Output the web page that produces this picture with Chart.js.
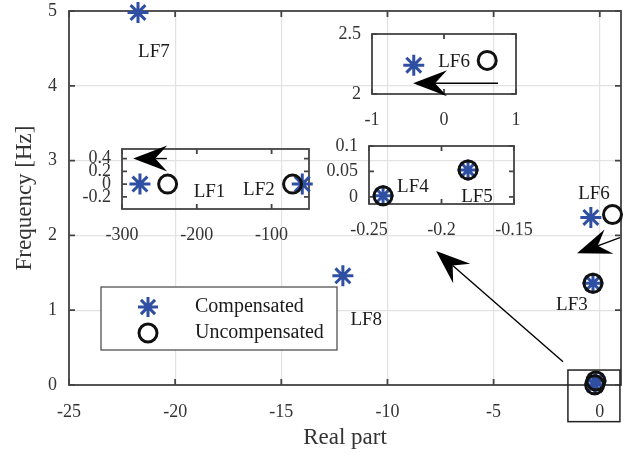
<!DOCTYPE html>
<html>
<head>
<meta charset="utf-8">
<script src="https://cdn.jsdelivr.net/npm/chart.js@4.4.1/dist/chart.umd.min.js"></script>
<style>
  html, body { margin: 0; padding: 0; background: #fff; }
  #wrap { position: relative; width: 627px; height: 454px; overflow: hidden; }
  #wrap canvas { position: absolute; }
</style>
</head>
<body>
<div id="wrap">
  <canvas id="main"></canvas>
  <canvas id="inset1"></canvas>
  <canvas id="inset2"></canvas>
  <canvas id="inset3"></canvas>
</div>
<script>
// modes and their eigenvalues (real part, frequency in Hz)
const modes      = ['LF1', 'LF2', 'LF3', 'LF4', 'LF5', 'LF6', 'LF7', 'LF8'];
const compReal   = [-276, -59, -0.32, -0.2403, -0.1817, -0.42, -21.75, -12.1];
const compFreq   = [0, 0, 1.36, 0.002, 0.053, 2.24, 4.98, 1.46];
const uncompReal = [-239, -72, -0.32, -0.2403, -0.1817, 0.6, null, null];
const uncompFreq = [0, 0, 1.36, 0.002, 0.053, 2.28, null, null];

// axis ranges and ticks
const mainX = [-25, 1],      mainXTicks = [-25, -20, -15, -10, -5, 0];
const mainY = [0, 5],        mainYTicks = [0, 1, 2, 3, 4, 5];
const in1X = [-300, -50],    in1XTicks = [-300, -200, -100];
const in1Y = [-0.39, 0.55],  in1YTicks = [-0.2, 0, 0.2, 0.4];
const in2X = [-1, 1],        in2XTicks = [-1, 0, 1];
const in2Y = [2, 2.5],       in2YTicks = [2, 2.5];
const in3X = [-0.25, -0.15], in3XTicks = [-0.25, -0.2, -0.15];
const in3Y = [-0.014, 0.1],  in3YTicks = [0, 0.05, 0.1];

// annotation anchors (data units of each axes)
const mainLabels = [['LF7', -21.0, 4.45], ['LF8', -11.0, 0.87], ['LF6', -0.27, 2.55], ['LF3', -1.31, 1.07]];
const mainArrows = [[-1.73, 0.31, -7.71, 1.79], [0.95, 1.97, -1.07, 1.76]];
const in1Labels = [['LF1', -183, -0.13], ['LF2', -117, -0.09]];
const in1Arrows = [[-240, 0.40, -285, 0.40]];
const in2Labels = [['LF6', 0.14, 2.27]];
const in2Arrows = [[0.75, 2.09, -0.43, 2.09]];
const in3Labels = [['LF4', -0.2197, 0.0196], ['LF5', -0.1755, 0]];
const zoomBox = [-1.5, 0.95, -0.49, 0.2];

const BLUE = '#2f4fa2';
const INK = '#111';
const FRAME = '#444';
const TEXT = '#333';
const GRID = '#e2e2e2';
const SERIF = '"Liberation Serif", "Times New Roman", serif';

function pts(xs, ys, xr, yr) {
  const out = [];
  xs.forEach((v, i) => {
    const w = ys[i];
    if (v == null || w == null) return;
    if (v >= xr[0] && v <= xr[1] && w >= yr[0] && w <= yr[1]) out.push({ x: v, y: w });
  });
  return out;
}

function drawArrow(ctx, x1, y1, x2, y2) {
  const dx = x2 - x1, dy = y2 - y1, len = Math.hypot(dx, dy);
  const ux = dx / len, uy = dy / len, nx = -uy, ny = ux;
  const L = 34, W = 13, N = 22;
  ctx.beginPath();
  ctx.moveTo(x1, y1);
  ctx.lineTo(x2 - ux * N, y2 - uy * N);
  ctx.stroke();
  ctx.beginPath();
  ctx.moveTo(x2, y2);
  ctx.lineTo(x2 - ux * L + nx * W, y2 - uy * L + ny * W);
  ctx.lineTo(x2 - ux * N, y2 - uy * N);
  ctx.lineTo(x2 - ux * L - nx * W, y2 - uy * L - ny * W);
  ctx.closePath();
  ctx.fill();
}

function star(ctx, x, y, r) {
  ctx.beginPath();
  for (let k = 0; k < 4; k++) {
    const a = k * Math.PI / 4;
    ctx.moveTo(x + Math.sin(a) * r, y - Math.cos(a) * r);
    ctx.lineTo(x - Math.sin(a) * r, y + Math.cos(a) * r);
  }
  ctx.stroke();
}

// frame, inward ticks, labels, arrows (and the legend for the main axes)
function decor(o) {
  return {
    id: 'decor',
    beforeDatasetsDraw(chart) {
      const { ctx, chartArea: a, scales: { x, y } } = chart;
      ctx.save();
      ctx.strokeStyle = FRAME;
      ctx.lineWidth = 1.8;
      ctx.strokeRect(a.left, a.top, a.right - a.left, a.bottom - a.top);
      ctx.beginPath();
      o.xt.forEach(v => {
        const px = x.getPixelForValue(v);
        ctx.moveTo(px, a.bottom); ctx.lineTo(px, a.bottom - o.tick);
        ctx.moveTo(px, a.top); ctx.lineTo(px, a.top + o.tick);
      });
      o.yt.forEach(v => {
        const py = y.getPixelForValue(v);
        ctx.moveTo(a.left, py); ctx.lineTo(a.left + o.tick, py);
        ctx.moveTo(a.right, py); ctx.lineTo(a.right - o.tick, py);
      });
      ctx.stroke();
      ctx.restore();
    },
    afterDatasetsDraw(chart) {
      const { ctx, scales: { x, y } } = chart;
      ctx.save();
      ctx.fillStyle = '#1a1a1a';
      ctx.font = '19px ' + SERIF;
      ctx.textAlign = 'center';
      ctx.textBaseline = 'middle';
      (o.labels || []).forEach(([t, lx, ly]) => {
        ctx.fillText(t, x.getPixelForValue(lx), y.getPixelForValue(ly));
      });
      ctx.strokeStyle = '#000';
      ctx.fillStyle = '#000';
      ctx.lineWidth = 1.4;
      (o.arrows || []).forEach(([ax, ay, bx, by]) => {
        drawArrow(ctx, x.getPixelForValue(ax), y.getPixelForValue(ay),
                  x.getPixelForValue(bx), y.getPixelForValue(by));
      });
      if (o.zoom) {
        const [x0, x1, y0, y1] = o.zoom;
        const l = x.getPixelForValue(x0), r = x.getPixelForValue(x1);
        const t = y.getPixelForValue(y1), b = y.getPixelForValue(y0);
        ctx.strokeStyle = '#222';
        ctx.lineWidth = 1.5;
        ctx.strokeRect(l, t, r - l, b - t);
      }
      ctx.restore();
    },
    afterDraw(chart) {
      if (!o.legend) return;
      const { ctx } = chart;
      const [lx, ly, lw, lh] = o.legend;
      ctx.save();
      ctx.fillStyle = '#fff';
      ctx.fillRect(lx, ly, lw, lh);
      ctx.strokeStyle = FRAME;
      ctx.lineWidth = 1.2;
      ctx.strokeRect(lx, ly, lw, lh);
      ctx.strokeStyle = BLUE;
      ctx.lineWidth = 3;
      star(ctx, lx + 47, ly + 20, 10);
      ctx.strokeStyle = INK;
      ctx.beginPath();
      ctx.arc(lx + 47, ly + 46, 9, 0, Math.PI * 2);
      ctx.stroke();
      ctx.fillStyle = '#1a1a1a';
      ctx.font = '20px ' + SERIF;
      ctx.textBaseline = 'middle';
      ctx.fillText('Compensated', lx + 94, ly + 20);
      ctx.fillText('Uncompensated', lx + 94, ly + 46);
      ctx.restore();
    }
  };
}

function noPad(s) {
  s.paddingLeft = 0; s.paddingRight = 0; s.paddingTop = 0; s.paddingBottom = 0;
}

function makeAxes(id, o) {
  const el = document.getElementById(id);
  el.width = o.w; el.height = o.h;
  el.style.left = o.left + 'px';
  el.style.top = o.top + 'px';
  const tickFont = { family: SERIF, size: 18 };
  return new Chart(el, {
    type: 'scatter',
    data: {
      datasets: [
        {
          label: 'Compensated',
          data: pts(compReal, compFreq, o.xr, o.yr),
          pointStyle: 'star', pointRadius: 10.5, pointBorderWidth: 3,
          pointBorderColor: BLUE, pointBackgroundColor: BLUE,
          order: 2, clip: false
        },
        {
          label: 'Uncompensated',
          data: pts(uncompReal, uncompFreq, o.xr, o.yr),
          pointStyle: 'circle', pointRadius: 9, pointBorderWidth: 3,
          pointBorderColor: INK, pointBackgroundColor: 'rgba(0,0,0,0)',
          order: 1, clip: false
        }
      ]
    },
    options: {
      responsive: false,
      animation: false,
      devicePixelRatio: 1,
      events: [],
      layout: { autoPadding: false, padding: { left: 0, top: o.padTop, right: o.padRight, bottom: 0 } },
      plugins: { legend: { display: false }, tooltip: { enabled: false } },
      scales: {
        x: {
          type: 'linear', min: o.xr[0], max: o.xr[1],
          afterFit: s => { s.height = o.padBottom; noPad(s); },
          afterBuildTicks: s => { s.ticks = o.xt.map(v => ({ value: v })); },
          grid: { display: o.grid, color: GRID, lineWidth: 1.2, drawTicks: false },
          border: { display: false },
          ticks: { autoSkip: false, maxRotation: 0, minRotation: 0, padding: o.xPad,
                   color: TEXT, font: tickFont, callback: v => String(v) },
          title: o.xTitle
            ? { display: true, text: o.xTitle, color: TEXT, font: { family: SERIF, size: 23 }, padding: { top: 0, bottom: 2 } }
            : { display: false }
        },
        y: {
          type: 'linear', min: o.yr[0], max: o.yr[1],
          afterFit: s => { s.width = o.padLeft; noPad(s); },
          afterBuildTicks: s => { s.ticks = o.yt.map(v => ({ value: v })); },
          grid: { display: o.grid, color: GRID, lineWidth: 1.2, drawTicks: false },
          border: { display: false },
          ticks: { autoSkip: false, padding: o.yPad, color: TEXT, font: tickFont, callback: v => String(v) },
          title: o.yTitle
            ? { display: true, text: o.yTitle, color: TEXT, font: { family: SERIF, size: 23 }, padding: { top: 11, bottom: 0 } }
            : { display: false }
        }
      }
    },
    plugins: [decor(o)]
  });
}

// place an inset so that its plot box lands on [bx, by, bw, bh]
function inset(id, box, o) {
  const padLeft = 60, padTop = 14, padRight = 30, padBottom = 40;
  return makeAxes(id, Object.assign({
    left: box[0] - padLeft, top: box[1] - padTop,
    w: box[2] + padLeft + padRight, h: box[3] + padTop + padBottom,
    padLeft, padTop, padRight, padBottom,
    grid: false, tick: 5, xPad: 15, yPad: 11
  }, o));
}

makeAxes('main', {
  left: 0, top: 0, w: 627, h: 454,
  padLeft: 69, padTop: 11, padRight: 6, padBottom: 69,
  xr: mainX, yr: mainY, xt: mainXTicks, yt: mainYTicks,
  grid: true, tick: 6, xPad: 16, yPad: 12,
  xTitle: 'Real part', yTitle: 'Frequency [Hz]',
  labels: mainLabels, arrows: mainArrows, zoom: zoomBox,
  legend: [101, 287, 236, 63]
});

inset('inset1', [122, 149, 187, 60], {
  xr: in1X, yr: in1Y, xt: in1XTicks, yt: in1YTicks,
  labels: in1Labels, arrows: in1Arrows
});
inset('inset2', [372, 34, 144, 60], {
  xr: in2X, yr: in2Y, xt: in2XTicks, yt: in2YTicks,
  labels: in2Labels, arrows: in2Arrows
});
inset('inset3', [369, 146, 145, 58], {
  xr: in3X, yr: in3Y, xt: in3XTicks, yt: in3YTicks,
  labels: in3Labels
});
</script>
</body>
</html>
